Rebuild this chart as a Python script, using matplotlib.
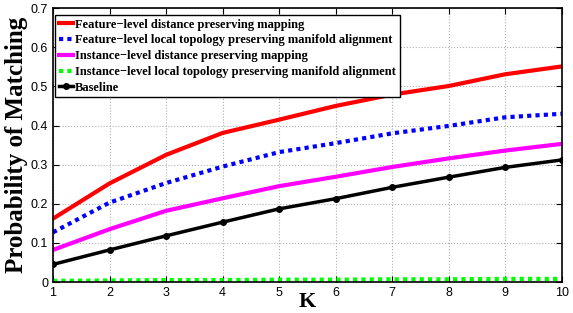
import matplotlib
matplotlib.use("Agg")
import matplotlib.pyplot as plt

# valeurs
K = [1, 2, 3, 4, 5, 6, 7, 8, 9, 10]
feat_dist = [0.162, 0.252, 0.325, 0.381, 0.415, 0.450, 0.479, 0.501, 0.531, 0.551]
feat_topo = [0.127, 0.203, 0.253, 0.295, 0.332, 0.355, 0.380, 0.399, 0.421, 0.430]
inst_dist = [0.082, 0.135, 0.182, 0.214, 0.245, 0.269, 0.294, 0.316, 0.336, 0.353]
inst_topo = [0.003, 0.004, 0.005, 0.005, 0.006, 0.006, 0.007, 0.007, 0.008, 0.008]
baseline = [0.045, 0.082, 0.118, 0.153, 0.187, 0.213, 0.242, 0.268, 0.293, 0.312]

labels = ["Feature\u2212level distance preserving mapping",
          "Feature\u2212level local topology preserving manifold alignment",
          "Instance\u2212level distance preserving mapping",
          "Instance\u2212level local topology preserving manifold alignment",
          "Baseline"]

fig = plt.figure(figsize=(5.73, 3.13), dpi=100)
ax = fig.add_axes([0.0925, 0.099, 0.888, 0.875])

ax.plot(K, feat_dist, color="#ff0000", lw=3, label=labels[0])
ax.plot(K, feat_topo, color="#0000ff", lw=3, ls=(0, (1, 1)), label=labels[1])
ax.plot(K, inst_dist, color="#ff00ff", lw=3, label=labels[2])
ax.plot(K, inst_topo, color="#00ff00", lw=3, ls=(0, (1, 1)), label=labels[3])
ax.plot(K, baseline, color="black", lw=2.5, marker="o", ms=4, label=labels[4])

ax.set_xlim(1, 10)
ax.set_ylim(0, 0.7)
ax.set_xticks(K)
ax.set_yticks([0, 0.1, 0.2, 0.3, 0.4, 0.5, 0.6, 0.7])
ax.set_yticklabels(["0", "0.1", "0.2", "0.3", "0.4", "0.5", "0.6", "0.7"])
ax.tick_params(direction="in", top=True, right=True, labelsize=9, length=4)
for t in ax.get_xticklabels() + ax.get_yticklabels():
    t.set_family("Liberation Sans")
ax.grid(True, ls=":", color="#b0b0b0", lw=0.8)
for s in ax.spines.values():
    s.set_linewidth(1.2)

ax.set_xlabel("K", family="Liberation Serif", weight="bold", fontsize=16, labelpad=-5)
ax.set_ylabel("Probability of Matching", family="Liberation Serif", weight="bold",
              fontsize=18, labelpad=2)

leg = ax.legend(loc="upper left", bbox_to_anchor=(0.004, 0.975), borderaxespad=0,
                prop={"family": "Liberation Serif", "weight": "bold", "size": 9.0},
                fancybox=False, edgecolor="black", framealpha=1, handlelength=1.1,
                handletextpad=0.2, labelspacing=0.3, borderpad=0.3)
leg.get_frame().set_linewidth(1.0)

fig.savefig("out.png", dpi=100)
